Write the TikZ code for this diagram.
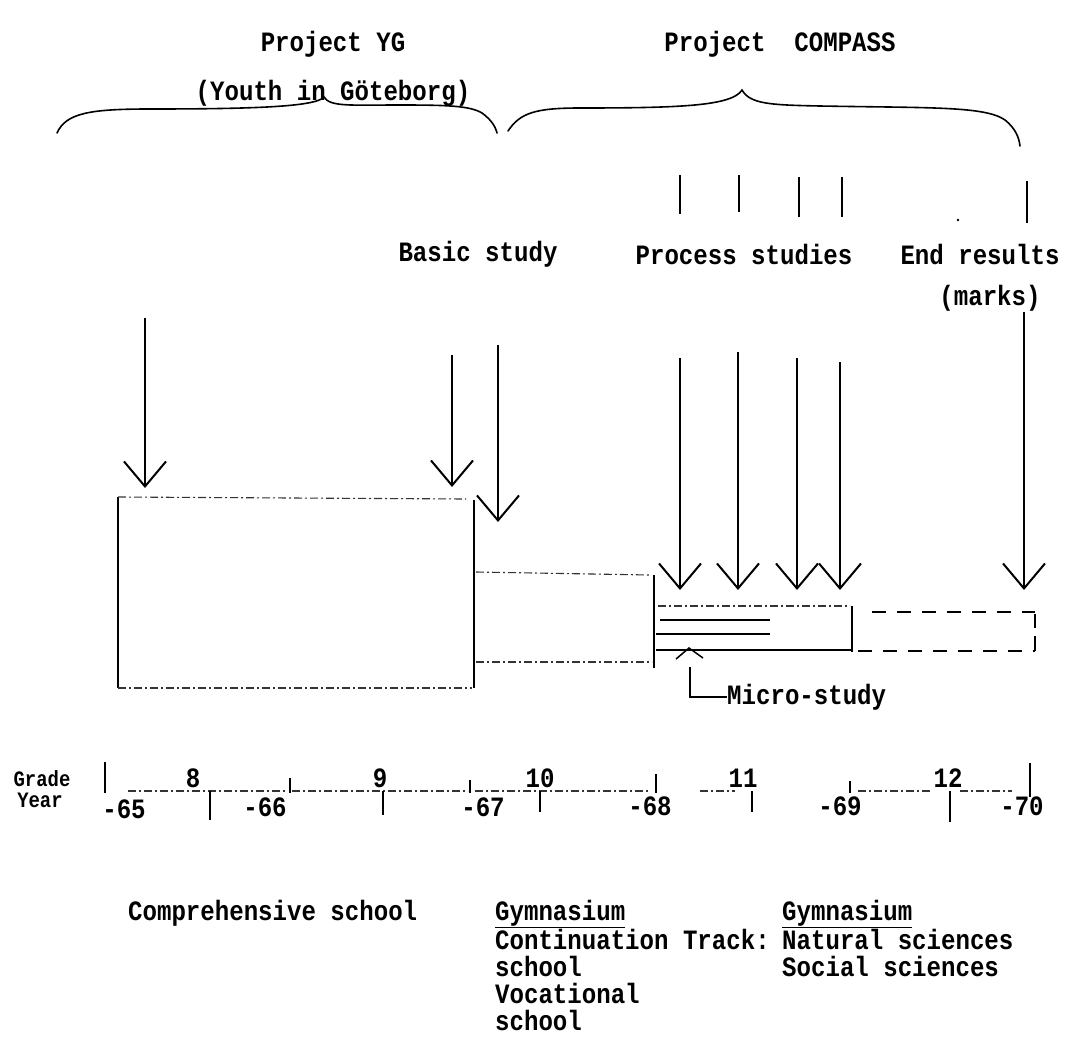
\documentclass[tikz,border=0pt]{standalone}
\usepackage{fontspec}
\newfontfamily\tw[FakeStretch=0.86]{Liberation Mono}
\usetikzlibrary{arrows.meta}
\begin{document}
\begin{tikzpicture}[x=1pt,y=-1pt,
  txt/.style={font=\tw\bfseries\fontsize{28}{30}\selectfont, inner sep=0pt},
  smalltxt/.style={font=\tw\bfseries\fontsize{22}{24}\selectfont, inner sep=0pt},
  ink/.style={line width=2pt, black},
  thinink/.style={line width=1.5pt, black},
  faint/.style={line width=1.1pt, black!80, dash pattern=on 8pt off 3pt on 2pt off 3pt},
  dashbox/.style={line width=1.8pt, dash pattern=on 14pt off 11pt},
  arr/.style={line width=2.3pt, -{Straight Barb[length=25pt,width=42pt,line width=2pt]}},
  brace/.style={line width=1.6pt, line cap=round},
  ]
\useasboundingbox (0,0) rectangle (1086,1036);

% ---------- titles ----------
\node[txt] (pyg) at (333,44) {Project YG};
\node[txt] (pcomp) at (780,44) {Project\ \ COMPASS};
\node[txt, anchor=base] (youth) at (333,100) {(Youth in Göteborg)};

% ---------- braces ----------
\draw[brace] (57,133) .. controls (66,113) and (90,109) .. (150,109)
  .. controls (250,109) and (316,107) .. (324,97)
  .. controls (330,107) and (350,105) .. (400,105)
  .. controls (450,105) and (470,106) .. (482,113)
  .. controls (490,119) and (495,125) .. (497,133);
\draw[brace] (508,131) .. controls (520,113) and (535,108) .. (580,108)
  .. controls (680,108) and (732,106) .. (742,90)
  .. controls (750,104) and (770,105) .. (820,106)
  .. controls (930,108) and (985,106) .. (1005,120)
  .. controls (1015,128) and (1019,137) .. (1020,146);

% ---------- top ticks ----------
\draw[ink] (680,175) -- (680,214);
\draw[ink] (739,175) -- (739,212);
\draw[ink] (799,177) -- (799,217);
\draw[ink] (842,177) -- (842,217);
\draw[ink] (1027,181) -- (1027,223);
\fill (958,220) circle (1.3pt);

% ---------- study labels ----------
\node[txt] (basic) at (478,254) {Basic study};
\node[txt] (proc) at (744,254) {Process studies};
\node[txt] (endr) at (980,254) {End results};
\node[txt] (marks) at (990,298) {(marks)};

% ---------- arrows ----------
\coordinate (s1) at (145,318);  \coordinate (t1) at (145,488);
\coordinate (s2) at (452,355);  \coordinate (t2) at (452,487);
\coordinate (s3) at (498,345);  \coordinate (t3) at (498,522);
\coordinate (s4) at (680,358);  \coordinate (t4) at (680,590);
\coordinate (s5) at (738,352);  \coordinate (t5) at (738,590);
\coordinate (s6) at (797,358);  \coordinate (t6) at (797,590);
\coordinate (s7) at (840,362);  \coordinate (t7) at (840,590);
\coordinate (s8) at (1024,312); \coordinate (t8) at (1024,590);
\foreach \i in {1,...,8} {\draw[arr] (s\i) -- (t\i);}

% ---------- box A (comprehensive school) ----------
\draw[ink] (118,497) -- (118,688);
\draw[ink] (474,500) -- (474,688);
\draw[faint] (118,497) -- (466,499);
\draw[faint] (118,688) -- (472,688);

% ---------- box B ----------
\draw[faint] (476,572) -- (650,575);
\draw[faint] (476,662) -- (652,662);

% ---------- box C (gymnasium years) ----------
\draw[ink] (654,575) -- (654,668);
\draw[faint] (658,606) -- (850,606);
\draw[ink] (852,606) -- (852,652);
\draw[thinink] (656,650) -- (852,650);
\draw[thinink] (660,620) -- (770,620);
\draw[thinink] (656,634) -- (770,634);

% ---------- box D (dashed) ----------
\draw[dashbox] (872,612) -- (1035,612);
\draw[dashbox] (858,651) -- (1035,651);
\draw[line width=1.8pt] (1035,614) -- (1035,628);
\draw[line width=1.8pt] (1035,636) -- (1035,651);

% ---------- micro-study ----------
\draw[thinink] (676,659) -- (689,648) -- (703,658);
\node[txt, anchor=west] (micro) at (727,697) {Micro-study};
\coordinate (ms) at (690,667);
\draw[thinink] (ms) |- (micro.west);

% ---------- grade / year scale ----------
\node[smalltxt] (grade) at (42,779) {Grade};
\node[smalltxt] (year) at (40,800) {Year};

\draw[faint] (128,791) -- (285,791);
\draw[faint] (292,791) -- (468,791);
\draw[faint] (475,791) -- (650,791);
\draw[faint] (700,791) -- (735,791);
\draw[faint] (858,791) -- (930,791);
\draw[faint] (960,791) -- (1012,791);

\draw[ink] (105,762) -- (105,793);
\draw[ink] (290,778) -- (290,793);
\draw[ink] (470,780) -- (470,793);
\draw[ink] (656,774) -- (656,793);
\draw[ink] (850,781) -- (850,793);
\draw[ink] (1030,763) -- (1030,797);

\draw[ink] (210,791) -- (210,820);
\draw[ink] (383,791) -- (383,815);
\draw[ink] (540,791) -- (540,812);
\draw[ink] (752,791) -- (752,812);
\draw[ink] (950,791) -- (950,822);

\node[txt, anchor=base] (g8) at (193,787) {8};
\node[txt, anchor=base] (g9) at (380,787) {9};
\node[txt, anchor=base] (g10) at (540,787) {10};
\node[txt, anchor=base] (g11) at (743,787) {11};
\node[txt, anchor=base] (g12) at (948,787) {12};

\node[txt] (y65) at (124,809) {-65};
\node[txt] (y66) at (265,807) {-66};
\node[txt] (y67) at (483,807) {-67};
\node[txt] (y68) at (650,806) {-68};
\node[txt] (y69) at (840,806) {-69};
\node[txt] (y70) at (1022,806) {-70};

% ---------- school types ----------
\node[txt, anchor=base west] (comp) at (128,920) {Comprehensive school};
\node[txt, anchor=base west] (gym1) at (495,920) {\underline{Gymnasium}};
\node[txt, anchor=base west] (cont) at (495,949) {Continuation Track:};
\node[txt, anchor=base west] (sch1) at (495,976) {school};
\node[txt, anchor=base west] (voc) at (495,1003) {Vocational};
\node[txt, anchor=base west] (sch2) at (495,1030) {school};
\node[txt, anchor=base west] (gym2) at (782,920) {\underline{Gymnasium}};
\node[txt, anchor=base west] (nat) at (782,949) {Natural sciences};
\node[txt, anchor=base west] (soc) at (782,976) {Social sciences};
\end{tikzpicture}
\end{document}
